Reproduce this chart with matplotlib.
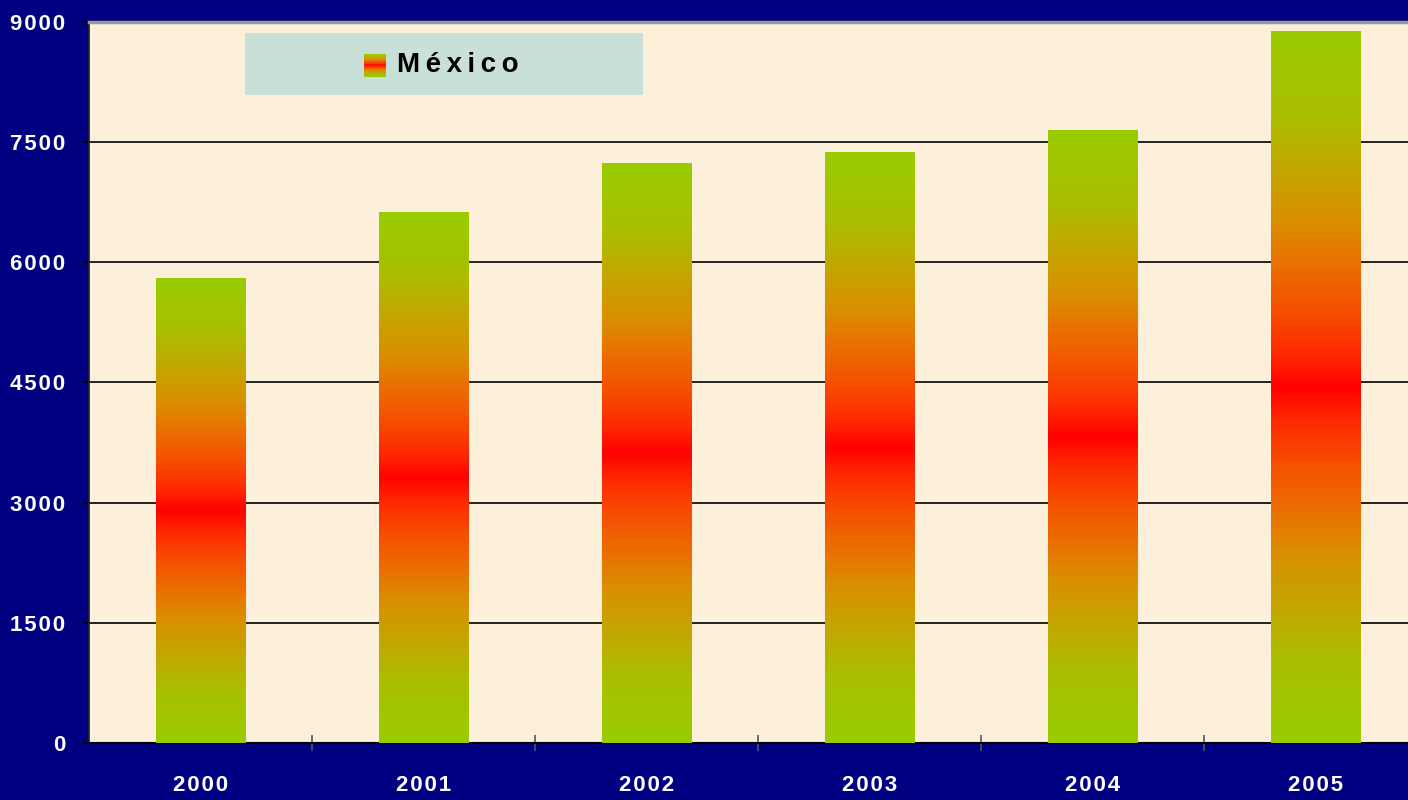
import numpy as np
import matplotlib
matplotlib.use("Agg")
import matplotlib.pyplot as plt
from matplotlib.colors import LinearSegmentedColormap
from matplotlib.patches import Rectangle

years = ["2000", "2001", "2002", "2003", "2004", "2005"]
values = [5800, 6620, 7230, 7370, 7640, 8880]
series_name = "México"
yticks = [0, 1500, 3000, 4500, 6000, 7500, 9000]

navy = "#000080"
cream = "#FCF0DA"
font = ["Liberation Sans Narrow", "Liberation Sans", "DejaVu Sans"]

# green at the ends, red in the middle of each bar
half = [(0.0, "#99CC00"), (0.23, "#AABF00"), (0.36, "#C0AA00"), (0.53, "#D99000"),
        (0.65, "#EA7000"), (0.78, "#F55000"), (0.91, "#FF2800"), (1.0, "#FF0000")]
stops = [(p / 2, c) for p, c in half] + [(1 - p / 2, c) for p, c in reversed(half[:-1])]
grad_cmap = LinearSegmentedColormap.from_list("mx", stops)
grad = np.linspace(0, 1, 512).reshape(-1, 1)


def spaced(s, sep="\u200a"):
    return sep.join(s)


fig = plt.figure(figsize=(14.08, 8), dpi=100, facecolor=navy)
ax = fig.add_axes([89 / 1408, 57 / 800, 1338 / 1408, 721 / 800])
ax.set_facecolor(cream)

x = np.arange(len(years))
bars = ax.bar(x, values, width=0.4, color="none", zorder=3)
for b in bars:
    x0, w, h = b.get_x(), b.get_width(), b.get_height()
    ax.imshow(grad, cmap=grad_cmap, aspect="auto", interpolation="bilinear",
              extent=[x0, x0 + w, 0, h], origin="lower", zorder=3)

ax.set_xlim(-0.5, len(years) - 0.5)
ax.set_ylim(0, 9000)
ax.set_yticks(yticks)
ax.set_yticklabels([spaced(str(v)) for v in yticks])
ax.yaxis.grid(True, color="black", linewidth=1.2, zorder=1)
ax.set_axisbelow(True)

ax.set_xticks(x)
ax.set_xticklabels([spaced(y) for y in years])
ax.set_xticks(np.arange(0.5, len(years) - 0.5, 1.0), minor=True)
ax.tick_params(axis="x", which="major", length=0, pad=23)
ax.tick_params(axis="x", which="minor", length=12, direction="inout", color="#555555", width=1.2)
ax.tick_params(axis="y", length=5, color="black", width=1.2, pad=12)

for lab in ax.get_xticklabels() + ax.get_yticklabels():
    lab.set_family(font)
    lab.set_fontweight("bold")
    lab.set_fontsize(16)
    lab.set_color("white")

ax.spines["top"].set_color("#999999")
ax.spines["top"].set_linewidth(2.5)
ax.spines["left"].set_color("#222222")
ax.spines["left"].set_linewidth(1.2)
ax.spines["bottom"].set_color("black")
ax.spines["bottom"].set_linewidth(1.5)
ax.spines["right"].set_visible(False)

# legend box
fig.patches.append(Rectangle((245 / 1408, 705 / 800), 398 / 1408, 62 / 800,
                             transform=fig.transFigure, facecolor="#C8E0D8",
                             edgecolor="none", zorder=5))
lax = fig.add_axes([364 / 1408, 723 / 800, 22 / 1408, 23 / 800], zorder=6)
lax.imshow(grad, cmap=grad_cmap, aspect="auto", origin="lower")
lax.axis("off")
fig.text(397 / 1408, 735 / 800, spaced(series_name, "\u2009"), family=font,
         fontweight="bold", fontsize=20, color="black", va="center", ha="left", zorder=7)

fig.savefig("out.png", dpi=100, facecolor=navy)
